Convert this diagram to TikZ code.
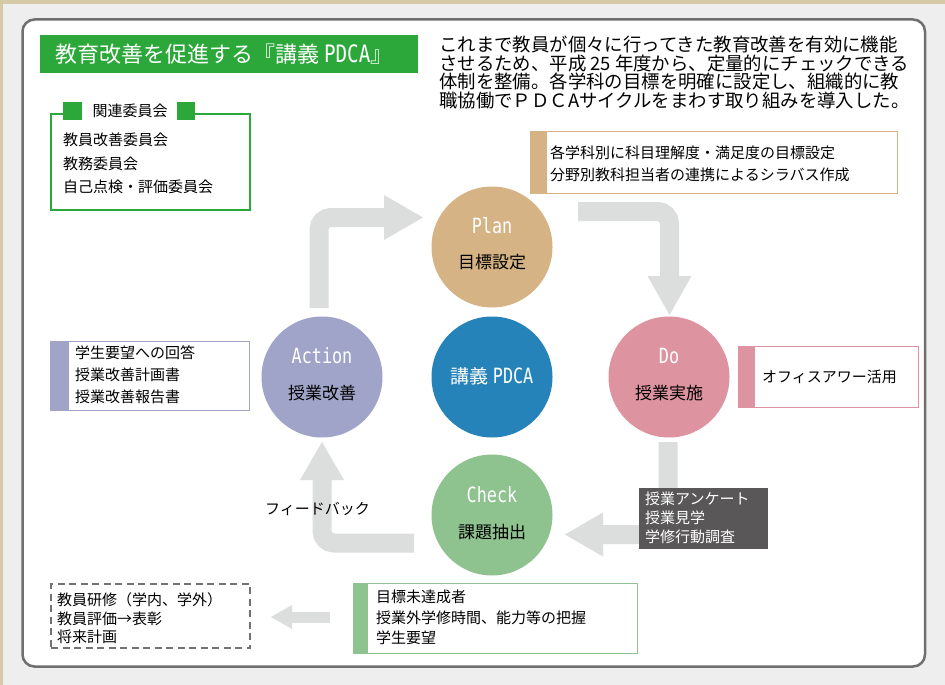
\documentclass[tikz,border=0pt]{standalone}
\usepackage{fontspec}
\setmainfont{Noto Sans CJK JP}
\newfontfamily\monof{DejaVu Sans Mono}
\newfontfamily\monoc[FakeStretch=0.8]{DejaVu Sans Mono}
\definecolor{bgc}{HTML}{EEEEEE}
\definecolor{beigeline}{HTML}{D6C9A8}
\definecolor{framec}{HTML}{6F6F6F}
\definecolor{titleg}{HTML}{2CA83A}
\definecolor{planc}{HTML}{D5B384}
\definecolor{corec}{HTML}{2683BA}
\definecolor{actc}{HTML}{9FA4C8}
\definecolor{doc}{HTML}{DE93A0}
\definecolor{chkc}{HTML}{8EC28F}
\definecolor{arrowc}{HTML}{DCDDDD}
\definecolor{darkc}{HTML}{595757}
\definecolor{dashc}{HTML}{727272}
\begin{document}
\begin{tikzpicture}[x=1pt,y=-1pt,
  txt/.style={font=\fontsize{15}{#1}\selectfont, align=left, inner sep=0pt, anchor=west},
  sidebox/.style={draw=#1, fill=white, line width=1.3pt, inner sep=0pt, anchor=north west},
  phase/.style={circle, fill=#1, minimum size=121pt, inner sep=0pt},
  eng/.style={text=white, font=\monoc\fontsize{21}{21}\selectfont, inner sep=0pt},
  jpl/.style={font=\fontsize{17}{17}\selectfont, inner sep=0pt},
  shaft/.style={draw=arrowc, line width=19pt, rounded corners=12pt},
  head/.style={fill=arrowc}
]
\useasboundingbox (0,0) rectangle (945,685);
% background and frame
\fill[bgc] (0,0) rectangle (945,685);
\fill[beigeline] (0,0) rectangle (945,4.5);
\fill[beigeline] (0,0) rectangle (3,685);
\draw[draw=framec, line width=2.5pt, fill=white, rounded corners=12pt] (22.5,19.5) rectangle (925,666.5);

% title
\node[fill=titleg, minimum width=378pt, minimum height=38pt, inner sep=0pt, anchor=north west] (title) at (40,35) {};
\node[text=white, font=\fontsize{22}{22}\selectfont, inner sep=0pt, anchor=west] (titletext) at (55,54) {教育改善を促進する『講義 {\monoc\fontsize{24}{24}\selectfont PDCA}』};

% intro paragraph
\node[font=\fontsize{18.4}{18.7}\selectfont, align=left, inner sep=0pt, anchor=west] (intro) at (439,72.5)
 {これまで教員が個々に行ってきた教育改善を有効に機能\\させるため、平成 25 年度から、定量的にチェックできる\\体制を整備。各学科の目標を明確に設定し、組織的に教\\職協働でＰＤＣAサイクルをまわす取り組みを導入した。};

% committee box
\node[draw=titleg, line width=2pt, fill=white, minimum width=199pt, minimum height=96pt, inner sep=0pt, anchor=north west] (comm) at (50,113) {};
\fill[white] (63,106) rectangle (195,120);
\fill[titleg] (63,102) rectangle (82,120);
\fill[titleg] (177,102) rectangle (195,120);
\node[font=\fontsize{15}{15}\selectfont, inner sep=0pt] (commhead) at (130,111) {関連委員会};
\node[txt=23.5] (commtext) at (63,163.5) {教員改善委員会\\教務委員会\\自己点検・評価委員会};

% arrows (cycle)
\coordinate (a1s) at (319,308);
\coordinate (a1b) at (385,217.5);
\coordinate (a1t) at (423,217.5);
\draw[shaft] (a1s) |- (a1b);
\fill[head] (384,195) -- (a1t) -- (384,240) -- cycle;

\coordinate (a2s) at (578,211.5);
\coordinate (a2b) at (669.5,277);
\coordinate (a2t) at (669.5,315);
\draw[shaft] (a2s) -| (a2b);
\fill[head] (647.5,276) -- (a2t) -- (691.5,276) -- cycle;

\coordinate (a3s) at (668,442);
\coordinate (a3b) at (602,534.5);
\coordinate (a3t) at (565,534.5);
\draw[shaft] (a3s) |- (a3b);
\fill[head] (603,512.5) -- (a3t) -- (603,556.5) -- cycle;

\coordinate (a4s) at (414,543);
\coordinate (a4b) at (322,479);
\coordinate (a4t) at (322,442);
\draw[shaft] (a4s) -| (a4b);
\fill[head] (300,480) -- (a4t) -- (344,480) -- cycle;

\coordinate (a5s) at (330,617);
\coordinate (a5b) at (291,617);
\coordinate (a5t) at (271,617);
\draw[draw=arrowc, line width=11pt] (a5s) -- (a5b);
\fill[head] (292,605) -- (a5t) -- (292,629) -- cycle;

% circles
\node[phase=planc] (plan) at (492,247) {};
\node[eng] (planen) at (492,226) {Plan};
\node[jpl] (planjp) at (492,262) {目標設定};

\node[phase=corec] (core) at (492,377) {};
\node[text=white, font=\fontsize{19}{19}\selectfont, inner sep=0pt] (coretext) at (492,376) {講義 {\monoc\fontsize{21}{21}\selectfont PDCA}};

\node[phase=actc] (act) at (322,377) {};
\node[eng] (acten) at (322,356) {Action};
\node[jpl] (actjp) at (322,393) {授業改善};

\node[phase=doc] (do) at (669,377) {};
\node[eng] (doen) at (669,356) {Do};
\node[jpl] (dojp) at (669,393) {授業実施};

\node[phase=chkc] (chk) at (492,515) {};
\node[eng] (chken) at (492,495) {Check};
\node[jpl] (chkjp) at (492,532) {課題抽出};

% side boxes
\node[sidebox=planc, minimum width=367pt, minimum height=62pt] (planbox) at (530,131) {};
\fill[planc] (planbox.north west) rectangle ([xshift=17pt]planbox.south west);
\node[txt=22] (plantext) at (550,164) {各学科別に科目理解度・満足度の目標設定\\分野別教科担当者の連携によるシラバス作成};

\node[sidebox=actc, minimum width=199pt, minimum height=69pt] (actbox) at (50,341) {};
\fill[actc] (actbox.north west) rectangle ([xshift=19pt]actbox.south west);
\node[txt=22] (acttext) at (75,375) {学生要望への回答\\授業改善計画書\\授業改善報告書};

\node[sidebox=doc, minimum width=180pt, minimum height=61pt] (dobox) at (738,346) {};
\fill[doc] (dobox.north west) rectangle ([xshift=17pt]dobox.south west);
\node[txt=15] (dotext) at (762,377) {オフィスアワー活用};

\node[sidebox=chkc, minimum width=284pt, minimum height=70pt] (chkbox) at (353,583) {};
\fill[chkc] (chkbox.north west) rectangle ([xshift=15pt]chkbox.south west);
\node[txt=20.5] (chktext) at (376,617.5) {目標未達成者\\授業外学修時間、能力等の把握\\学生要望};

\node[fill=darkc, minimum width=129pt, minimum height=61pt, inner sep=0pt, anchor=north west] (darkbox) at (639,488) {};
\node[txt=19, text=white] (darktext) at (645,518) {授業アンケート\\授業見学\\学修行動調査};

\node[draw=dashc, line width=2pt, dash pattern=on 7pt off 4.5pt, fill=white, minimum width=199pt, minimum height=64pt, inner sep=0pt, anchor=north west] (futbox) at (50,583) {};
\node[txt=18.5] (futtext) at (57,618.5) {教員研修（学内、学外）\\教員評価→表彰\\将来計画};

\node[txt=15] (fb) at (265,509) {フィードバック};
\end{tikzpicture}
\end{document}
